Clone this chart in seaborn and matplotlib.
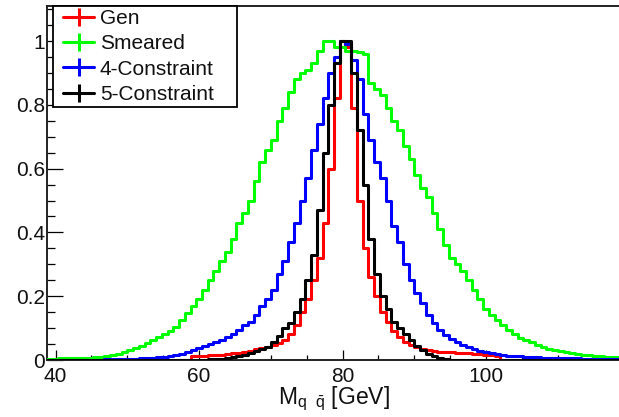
import numpy as np
import pandas as pd
import matplotlib
matplotlib.use("Agg")
import matplotlib.pyplot as plt
from matplotlib.lines import Line2D
from matplotlib.legend_handler import HandlerLine2D
from matplotlib.ticker import MultipleLocator, FixedLocator, FixedFormatter
import seaborn as sns

# Dijet invariant mass, 100 bins of 0.8 GeV, each histogram scaled to unit peak
bin_lo, bin_hi, bin_w = 38.8, 118.8, 0.8

gen = [0.0] * 25 + [
    0.012, 0.013, 0.014, 0.015, 0.016, 0.017, 0.019, 0.021, 0.023, 0.026,
    0.029, 0.033, 0.037, 0.041, 0.046, 0.052, 0.062, 0.082, 0.11, 0.15,
    0.19, 0.25, 0.32, 0.43, 0.60, 0.82, 1.00, 0.98, 0.79, 0.50,
    0.35, 0.26, 0.20, 0.15, 0.12, 0.092, 0.072, 0.058, 0.048, 0.040,
    0.034, 0.030, 0.028, 0.026, 0.025, 0.024, 0.023, 0.022, 0.021, 0.019,
    0.018, 0.017, 0.015, 0.013] + [0.0] * 21

smeared = [
    0.004, 0.004, 0.005, 0.005, 0.005, 0.006, 0.006, 0.007, 0.008, 0.010,
    0.013, 0.016, 0.020, 0.025, 0.030, 0.037, 0.045, 0.054, 0.063, 0.073,
    0.082, 0.092, 0.105, 0.125, 0.148, 0.168, 0.19, 0.22, 0.25, 0.28,
    0.31, 0.34, 0.38, 0.43, 0.46, 0.50, 0.56, 0.62, 0.66, 0.69,
    0.75, 0.79, 0.84, 0.88, 0.90, 0.91, 0.93, 0.97, 1.00, 1.00,
    0.98, 0.98, 0.97, 0.97, 0.965, 0.96, 0.87, 0.85, 0.83, 0.79,
    0.75, 0.72, 0.67, 0.63, 0.58, 0.54, 0.51, 0.46, 0.41, 0.36,
    0.32, 0.30, 0.28, 0.25, 0.22, 0.19, 0.16, 0.14, 0.125, 0.11,
    0.095, 0.08, 0.07, 0.063, 0.055, 0.048, 0.042, 0.036, 0.031, 0.027,
    0.024, 0.021, 0.019, 0.017, 0.016, 0.014, 0.012, 0.010, 0.009, 0.008]

constraint4 = [
    0.0, 0.0, 0.0, 0.0, 0.0, 0.0, 0.0, 0.0, 0.0, 0.001,
    0.002, 0.002, 0.003, 0.003, 0.004, 0.004, 0.005, 0.006, 0.007, 0.008,
    0.010, 0.013, 0.016, 0.020, 0.025, 0.031, 0.037, 0.044, 0.051, 0.058,
    0.064, 0.071, 0.082, 0.095, 0.11, 0.12, 0.14, 0.17, 0.19, 0.22,
    0.27, 0.31, 0.37, 0.43, 0.50, 0.57, 0.66, 0.74, 0.82, 0.90,
    0.95, 1.00, 0.99, 0.94, 0.88, 0.77, 0.69, 0.62, 0.57, 0.50,
    0.42, 0.37, 0.30, 0.25, 0.21, 0.18, 0.14, 0.115, 0.095, 0.078,
    0.065, 0.056, 0.048, 0.040, 0.034, 0.029, 0.025, 0.021, 0.018, 0.016,
    0.014, 0.012, 0.011, 0.010, 0.009, 0.008, 0.007, 0.007, 0.006, 0.006,
    0.005, 0.005, 0.005, 0.004, 0.004, 0.004, 0.004, 0.003, 0.003, 0.003]

constraint5 = [0.0] * 27 + [
    0.001, 0.002, 0.003, 0.004, 0.006, 0.009, 0.013, 0.017, 0.022, 0.028,
    0.034, 0.042, 0.055, 0.075, 0.10, 0.115, 0.15, 0.19, 0.25, 0.33,
    0.47, 0.65, 0.80, 0.93, 1.00, 1.00, 0.90, 0.72, 0.55, 0.38,
    0.27, 0.20, 0.16, 0.12, 0.10, 0.08, 0.062, 0.045, 0.032, 0.020,
    0.012, 0.006, 0.002, 0.001] + [0.0] * 29

series_names = ["Gen", "Smeared", "4-Constraint", "5-Constraint"]
series_values = [gen, smeared, constraint4, constraint5]
series_colors = ["#ff0000", "#00ff00", "#0000ff", "#000000"]

y_ticks = [0, 0.2, 0.4, 0.6, 0.8, 1.0]
y_tick_labels = ["0", "0.2", "0.4", "0.6", "0.8", "1"]
x_ticks = [40, 60, 80, 100]

n_bins = len(gen)
centers = bin_lo + bin_w * (np.arange(n_bins) + 0.5)

frames = []
for name, vals in zip(series_names, series_values):
    frames.append(pd.DataFrame({"mass": centers, "weight": vals, "sample": name}))
df = pd.concat(frames, ignore_index=True)

sns.set_style("white")
plt.rcParams["font.family"] = ["Liberation Sans", "DejaVu Sans"]
plt.rcParams["mathtext.fontset"] = "custom"
plt.rcParams["mathtext.rm"] = "Liberation Sans"
plt.rcParams["mathtext.it"] = "Liberation Sans:italic"

fig = plt.figure(figsize=(6.19, 4.17), dpi=100)
W, H = 619.0, 417.0
ax = fig.add_axes([47 / W, 1 - 360 / H, 574 / W, 354 / H])

for z, (name, col) in enumerate(zip(series_names, series_colors)):
    sns.histplot(data=df[df["sample"] == name], x="mass", weights="weight",
                 binwidth=bin_w, binrange=(bin_lo, bin_hi), element="step",
                 fill=False, color=col, linewidth=2.2, ax=ax, zorder=2 + z)

ax.set_xlim(bin_lo, bin_hi)
ax.set_ylim(0, 1.11)

ax.xaxis.set_major_locator(FixedLocator(x_ticks))
ax.xaxis.set_minor_locator(MultipleLocator(5))
ax.yaxis.set_major_locator(FixedLocator(y_ticks))
ax.yaxis.set_major_formatter(FixedFormatter(y_tick_labels))
ax.yaxis.set_minor_locator(MultipleLocator(0.05))

ax.tick_params(axis="both", which="both", direction="in", colors="black",
               top=False, right=False, bottom=True, left=True, width=0.9)
ax.tick_params(axis="x", which="major", length=7.2, pad=5, labelsize=15,
               labelcolor="#111111")
ax.tick_params(axis="x", which="minor", length=3.6)
ax.tick_params(axis="y", which="major", length=11.5, pad=1.5, labelsize=15,
               labelcolor="#111111")
ax.tick_params(axis="y", which="minor", length=5.8)

for sp in ax.spines.values():
    sp.set_color("#222222")
    sp.set_linewidth(1.4)

ax.set_xlabel(r"$\mathrm{M}_{\mathrm{q}\ \ \bar{\mathrm{q}}}$ [GeV]", fontsize=16.5,
              labelpad=-1, color="#111111")
ax.set_ylabel("")

handles = [Line2D([], [], color=c, lw=2.2, marker="|", markersize=13,
                  markeredgewidth=2.2) for c in series_colors]
leg = ax.legend(handles, series_names, loc="upper left",
                bbox_to_anchor=(6 / 574, 0.0, 184 / 574, 1.0), mode="expand",
                borderaxespad=0, fontsize=15, frameon=True, fancybox=False,
                borderpad=0.15, labelspacing=0.3, handlelength=1.8,
                handletextpad=0.3, labelcolor="#111111",
                handler_map={Line2D: HandlerLine2D(numpoints=1, xpad=0.35)})
leg.get_frame().set_edgecolor("black")
leg.get_frame().set_linewidth(1.3)
leg.get_frame().set_alpha(1)
leg.set_zorder(10)

fig.savefig("out.png", dpi=100)
